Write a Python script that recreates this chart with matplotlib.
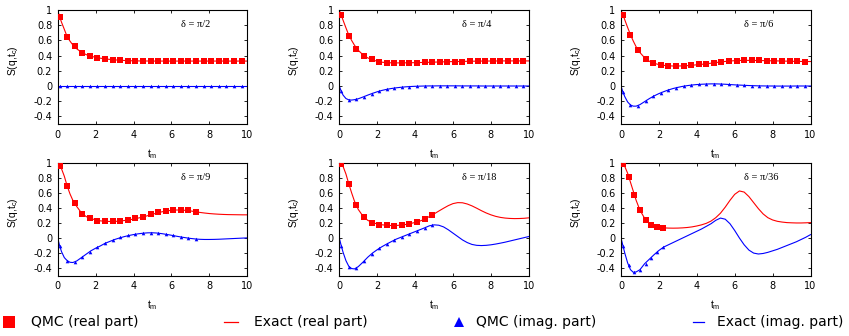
import matplotlib
matplotlib.use('Agg')
import matplotlib.pyplot as plt

# ---------------- data ----------------
t_exact = [0.0, 0.1, 0.2, 0.35, 0.5, 0.65, 0.8, 1.0, 1.25, 1.5, 1.75, 2.0, 2.25, 2.5, 2.75,
           3.0, 3.25, 3.5, 3.75, 4.0, 4.25, 4.5, 4.75, 5.0, 5.25, 5.5, 5.75, 6.0, 6.25, 6.5,
           6.75, 7.0, 7.25, 7.5, 7.75, 8.0, 8.25, 8.5, 8.75, 9.0, 9.25, 9.5, 9.75, 10.0]
t_qmc = [0.1, 0.5, 0.9, 1.3, 1.7, 2.1, 2.5, 2.9, 3.3, 3.7, 4.1, 4.5, 4.9, 5.3, 5.7, 6.1,
         6.5, 6.9, 7.3, 7.7, 8.1, 8.5, 8.9, 9.3, 9.7]
t_qmc_36 = [0.1, 0.4, 0.7, 1.0, 1.3, 1.6, 1.9, 2.2]

deltas = ['δ = π/2', 'δ = π/4', 'δ = π/6', 'δ = π/9', 'δ = π/18', 'δ = π/36']

# delta = pi/2
exact_re_2 = [1.0, 0.91, 0.84, 0.745, 0.648, 0.59, 0.54, 0.49, 0.445, 0.413, 0.392, 0.377, 0.366, 0.357, 0.35,
              0.344, 0.34, 0.336, 0.333, 0.331, 0.33, 0.329, 0.329, 0.328, 0.328, 0.328, 0.328, 0.328, 0.328, 0.328,
              0.328, 0.328, 0.328, 0.328, 0.328, 0.328, 0.328, 0.328, 0.328, 0.328, 0.328, 0.328, 0.328, 0.328]
exact_im_2 = [0.0, 0.0, 0.0, 0.0, 0.0, 0.0, 0.0, 0.0, 0.0, 0.0, 0.0, 0.0, 0.0, 0.0, 0.0,
              0.0, 0.0, 0.0, 0.0, 0.0, 0.0, 0.0, 0.0, 0.0, 0.0, 0.0, 0.0, 0.0, 0.0, 0.0,
              0.0, 0.0, 0.0, 0.0, 0.0, 0.0, 0.0, 0.0, 0.0, 0.0, 0.0, 0.0, 0.0, 0.0]
qmc_re_2 = [0.907, 0.643, 0.52, 0.44, 0.396, 0.374, 0.357, 0.345, 0.34, 0.334, 0.331, 0.33, 0.329,
            0.328, 0.328, 0.328, 0.328, 0.328, 0.328, 0.328, 0.328, 0.328, 0.328, 0.328, 0.328]
qmc_im_2 = [0.0, 0.0, 0.0, 0.0, 0.0, 0.0, 0.0, 0.0, 0.0, 0.0, 0.0, 0.0, 0.0,
            0.0, 0.0, 0.0, 0.0, 0.0, 0.0, 0.0, 0.0, 0.0, 0.0, 0.0, 0.0]

# delta = pi/4
exact_re_4 = [1.0, 0.93, 0.865, 0.765, 0.67, 0.6, 0.537, 0.47, 0.41, 0.37, 0.345, 0.325, 0.313, 0.307, 0.305,
              0.304, 0.304, 0.305, 0.306, 0.307, 0.309, 0.31, 0.312, 0.314, 0.316, 0.318, 0.32, 0.321, 0.322, 0.324,
              0.325, 0.326, 0.327, 0.328, 0.328, 0.329, 0.329, 0.33, 0.33, 0.33, 0.33, 0.33, 0.33, 0.33]
exact_im_4 = [0.0, -0.07, -0.12, -0.165, -0.182, -0.185, -0.18, -0.168, -0.145, -0.12, -0.097, -0.076, -0.058, -0.044, -0.033,
              -0.024, -0.017, -0.011, -0.007, -0.004, -0.002, 0.0, 0.001, 0.001, 0.002, 0.002, 0.002, 0.002, 0.002, 0.001,
              0.001, 0.001, 0.001, 0.0, 0.0, 0.0, 0.0, 0.0, 0.0, 0.0, 0.0, 0.0, 0.0, 0.0]
qmc_re_4 = [0.93, 0.66, 0.49, 0.4, 0.35, 0.32, 0.308, 0.305, 0.305, 0.305, 0.308, 0.31, 0.313,
            0.316, 0.318, 0.32, 0.322, 0.325, 0.327, 0.328, 0.33, 0.33, 0.33, 0.33, 0.33]
qmc_im_4 = [-0.07, -0.18, -0.175, -0.14, -0.1, -0.068, -0.045, -0.028, -0.016, -0.008, -0.003, 0.0, 0.002,
            0.002, 0.002, 0.002, 0.001, 0.001, 0.0, 0.0, 0.0, 0.0, 0.0, 0.0, 0.0]

# delta = pi/6
exact_re_6 = [1.0, 0.94, 0.87, 0.77, 0.675, 0.59, 0.515, 0.44, 0.37, 0.325, 0.298, 0.282, 0.272, 0.266, 0.263,
              0.263, 0.265, 0.268, 0.273, 0.279, 0.285, 0.292, 0.3, 0.308, 0.316, 0.323, 0.329, 0.333, 0.336, 0.337,
              0.337, 0.336, 0.335, 0.334, 0.333, 0.331, 0.33, 0.328, 0.327, 0.325, 0.324, 0.323, 0.322, 0.322]
exact_im_6 = [0.0, -0.08, -0.14, -0.21, -0.25, -0.265, -0.265, -0.245, -0.205, -0.165, -0.13, -0.1, -0.075, -0.052, -0.033,
              -0.018, -0.005, 0.005, 0.013, 0.019, 0.023, 0.026, 0.028, 0.028, 0.026, 0.023, 0.019, 0.015, 0.012, 0.009,
              0.006, 0.004, 0.002, 0.001, 0.0, 0.0, -0.001, -0.001, -0.001, -0.001, 0.0, 0.0, 0.0, 0.0]
qmc_re_6 = [0.94, 0.675, 0.48, 0.357, 0.305, 0.278, 0.265, 0.263, 0.267, 0.276, 0.284, 0.295, 0.307,
            0.32, 0.33, 0.335, 0.337, 0.337, 0.336, 0.334, 0.332, 0.33, 0.327, 0.324, 0.322]
qmc_im_6 = [-0.08, -0.25, -0.26, -0.195, -0.135, -0.09, -0.05, -0.02, 0.0, 0.013, 0.022, 0.027, 0.028,
            0.025, 0.02, 0.015, 0.01, 0.006, 0.003, 0.001, 0.0, -0.001, -0.001, 0.0, 0.0]

# delta = pi/9
exact_re_9 = [1.0, 0.965, 0.92, 0.82, 0.69, 0.585, 0.5, 0.42, 0.335, 0.285, 0.26, 0.24, 0.228, 0.222, 0.22,
              0.22, 0.225, 0.232, 0.24, 0.252, 0.265, 0.28, 0.297, 0.315, 0.333, 0.348, 0.36, 0.368, 0.372, 0.372,
              0.367, 0.36, 0.35, 0.34, 0.332, 0.325, 0.32, 0.316, 0.313, 0.311, 0.31, 0.309, 0.308, 0.308]
exact_im_9 = [0.0, -0.1, -0.18, -0.26, -0.3, -0.322, -0.325, -0.305, -0.26, -0.215, -0.17, -0.135, -0.105, -0.07, -0.045,
              -0.02, 0.0, 0.018, 0.033, 0.046, 0.056, 0.064, 0.069, 0.07, 0.066, 0.058, 0.048, 0.037, 0.025, 0.014,
              0.004, -0.005, -0.012, -0.017, -0.019, -0.019, -0.018, -0.016, -0.013, -0.01, -0.007, -0.004, -0.001, 0.002]
qmc_re_9 = [0.96, 0.69, 0.47, 0.32, 0.27, 0.23, 0.22, 0.22, 0.23, 0.245, 0.265, 0.28, 0.32,
            0.35, 0.365, 0.375, 0.375, 0.37, 0.35]
qmc_im_9 = [-0.1, -0.3, -0.32, -0.25, -0.18, -0.115, -0.065, -0.03, 0.01, 0.035, 0.055, 0.065, 0.07,
            0.065, 0.05, 0.035, 0.02, 0.0, -0.015]

# delta = pi/18
exact_re_18 = [1.0, 0.985, 0.95, 0.85, 0.72, 0.6, 0.49, 0.38, 0.29, 0.235, 0.205, 0.187, 0.176, 0.169, 0.166,
               0.166, 0.172, 0.18, 0.192, 0.207, 0.225, 0.25, 0.285, 0.32, 0.358, 0.395, 0.43, 0.457, 0.47, 0.468,
               0.452, 0.427, 0.396, 0.363, 0.333, 0.308, 0.288, 0.274, 0.265, 0.26, 0.258, 0.259, 0.262, 0.268]
exact_im_18 = [0.0, -0.1, -0.19, -0.3, -0.375, -0.405, -0.41, -0.38, -0.32, -0.255, -0.2, -0.155, -0.115, -0.08, -0.047,
               -0.015, 0.01, 0.035, 0.06, 0.085, 0.11, 0.135, 0.162, 0.175, 0.17, 0.148, 0.11, 0.065, 0.02, -0.025,
               -0.06, -0.085, -0.097, -0.1, -0.097, -0.09, -0.08, -0.068, -0.055, -0.04, -0.025, -0.01, 0.005, 0.02]
qmc_re_18 = [0.98, 0.72, 0.445, 0.28, 0.205, 0.178, 0.167, 0.165, 0.172, 0.19, 0.215, 0.25, 0.305]
qmc_im_18 = [-0.1, -0.38, -0.4, -0.3, -0.21, -0.135, -0.08, -0.025, 0.02, 0.06, 0.1, 0.135, 0.17]

# delta = pi/36
exact_re_36 = [1.0, 0.985, 0.95, 0.86, 0.74, 0.62, 0.5, 0.37, 0.26, 0.195, 0.16, 0.143, 0.135, 0.132, 0.131,
               0.132, 0.135, 0.14, 0.148, 0.16, 0.175, 0.195, 0.225, 0.27, 0.33, 0.41, 0.5, 0.58, 0.625, 0.61,
               0.55, 0.47, 0.39, 0.32, 0.27, 0.24, 0.222, 0.212, 0.205, 0.202, 0.2, 0.2, 0.202, 0.205]
exact_im_36 = [0.0, -0.1, -0.2, -0.33, -0.42, -0.455, -0.45, -0.42, -0.34, -0.28, -0.22, -0.165, -0.12, -0.09, -0.06,
               -0.03, 0.0, 0.03, 0.06, 0.09, 0.12, 0.155, 0.19, 0.235, 0.265, 0.25, 0.19, 0.1, 0.0, -0.09,
               -0.16, -0.2, -0.212, -0.205, -0.19, -0.17, -0.15, -0.125, -0.1, -0.075, -0.05, -0.02, 0.01, 0.045]
qmc_re_36 = [0.98, 0.815, 0.575, 0.378, 0.245, 0.178, 0.15, 0.138]
qmc_im_36 = [-0.1, -0.355, -0.45, -0.425, -0.345, -0.26, -0.185, -0.123]

exact_re = [exact_re_2, exact_re_4, exact_re_6, exact_re_9, exact_re_18, exact_re_36]
exact_im = [exact_im_2, exact_im_4, exact_im_6, exact_im_9, exact_im_18, exact_im_36]
qmc_re = [qmc_re_2, qmc_re_4, qmc_re_6, qmc_re_9, qmc_re_18, qmc_re_36]
qmc_im = [qmc_im_2, qmc_im_4, qmc_im_6, qmc_im_9, qmc_im_18, qmc_im_36]
qmc_t = [t_qmc, t_qmc, t_qmc, t_qmc, t_qmc, t_qmc_36]

xticks = [0, 2, 4, 6, 8, 10]
xtick_labels = ['0', '2', '4', '6', '8', '10']
yticks = [-0.4, -0.2, 0.0, 0.2, 0.4, 0.6, 0.8, 1.0]
ytick_labels = ['-0.4', '-0.2', '0', '0.2', '0.4', '0.6', '0.8', '1']

legend_labels = ['QMC (real part)', 'Exact (real part)', 'QMC (imag. part)', 'Exact (imag. part)']

RED = '#ff0000'
BLUE = '#0000ff'

plt.rcParams['mathtext.fontset'] = 'custom'
plt.rcParams['mathtext.rm'] = 'Liberation Sans'
plt.rcParams['mathtext.default'] = 'rm'

W, H = 849, 336
fig = plt.figure(figsize=(W / 100, H / 100), dpi=100)

col_left = [57.7, 339.3, 621.0]
ax_w = 189.5
row_top = [10.0, 162.7]
ax_h = [114.0, 113.0]

for i in range(6):
    r, c = divmod(i, 3)
    left = col_left[c] / W
    bottom = 1 - (row_top[r] + ax_h[r]) / H
    ax = fig.add_axes([left, bottom, ax_w / W, ax_h[r] / H])

    ax.plot(t_exact, exact_re[i], color=RED, lw=0.8, zorder=2)
    ax.plot(t_exact, exact_im[i], color=BLUE, lw=0.8, zorder=2)
    n_re = len(qmc_re[i])
    ax.plot(qmc_t[i][:n_re], qmc_re[i], ls='none', marker='s', ms=3.9, color=RED,
            markeredgewidth=0, zorder=3)
    n_im = len(qmc_im[i])
    ax.plot(qmc_t[i][:n_im], qmc_im[i], ls='none', marker='^', ms=2.6, color=BLUE,
            markeredgewidth=0, zorder=3)

    ax.set_xlim(0, 10)
    ax.set_ylim(-0.5, 1.0)
    ax.set_xticks(xticks)
    ax.set_xticklabels(xtick_labels, fontsize=7, family='DejaVu Sans')
    ax.set_yticks(yticks)
    ax.set_yticklabels(ytick_labels, fontsize=7, family='DejaVu Sans')
    ax.tick_params(direction='in', top=True, right=True, length=2.5, width=0.6, pad=4,
                   colors='black')
    for sp in ax.spines.values():
        sp.set_linewidth(0.8)
        sp.set_color('black')

    ax.set_xlabel('t$_\\mathrm{m}$', fontsize=7.5, family='Liberation Sans')
    ax.xaxis.set_label_coords(0.5, -0.2)
    ax.set_ylabel('S(q,t$_\\mathrm{c}$)', fontsize=7.5, family='Liberation Sans')
    ax.yaxis.set_label_coords(-0.2, 0.56)

    ax.text(0.65, 0.87, deltas[i], transform=ax.transAxes, ha='left', va='center',
            fontsize=7.5, family='Liberation Serif')

# legend row, drawn in pixel coordinates of an overlay axes
lax = fig.add_axes([0, 0, 1, 1])
lax.set_xlim(0, W)
lax.set_ylim(H, 0)
lax.axis('off')
ly = 322
lax.plot([9], [ly], marker='s', ms=8, color=RED, markeredgewidth=0, ls='none')
lax.text(31, ly, legend_labels[0], fontsize=10, family='DejaVu Sans', va='center', ha='left')
lax.plot([224, 238], [ly, ly], color=RED, lw=0.9)
lax.text(254, ly, legend_labels[1], fontsize=10, family='DejaVu Sans', va='center', ha='left')
lax.plot([459], [ly], marker='^', ms=7, color=BLUE, markeredgewidth=0, ls='none')
lax.text(476, ly, legend_labels[2], fontsize=10, family='DejaVu Sans', va='center', ha='left')
lax.plot([693, 704], [ly, ly], color=BLUE, lw=0.9)
lax.text(717, ly, legend_labels[3], fontsize=10, family='DejaVu Sans', va='center', ha='left')

fig.savefig('out.png', dpi=100)
